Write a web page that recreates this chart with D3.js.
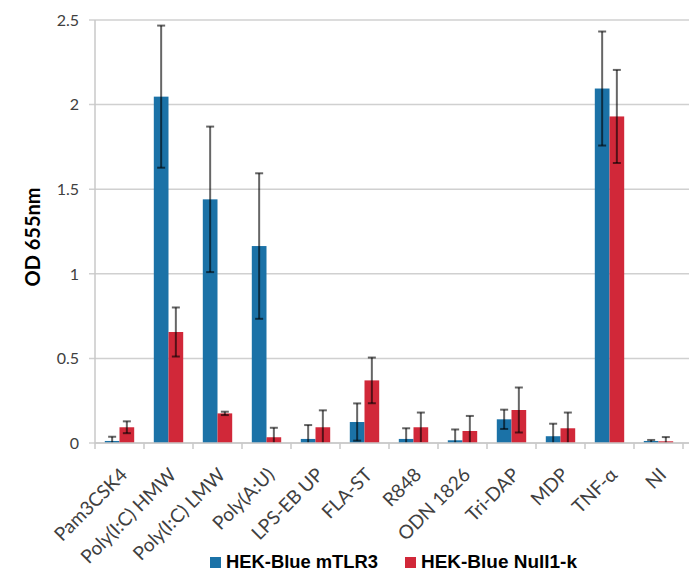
<!DOCTYPE html>
<html>
<head>
<meta charset="utf-8">
<script src="https://cdn.jsdelivr.net/npm/d3@7"></script>
<style>
  body { margin: 0; background: #fff; }
  .axis_text { font-family: Lato, sans-serif; fill: #404040; }
</style>
</head>
<body>
<figure id="chart" style="margin:0"></figure>
<script>
// data
var categories = ["Pam3CSK4", "Poly(I:C) HMW", "Poly(I:C) LMW", "Poly(A:U)", "LPS-EB UP", "FLA-ST",
    "R848", "ODN 1826", "Tri-DAP", "MDP", "TNF-α", "NI"];
var series = ["HEK-Blue mTLR3", "HEK-Blue Null1-k"];
var tlr3 = [0.012, 2.047, 1.44, 1.164, 0.024, 0.124, 0.024, 0.016, 0.14, 0.04, 2.095, 0.012];
var tlr3Err = [0.025, 0.42, 0.43, 0.43, 0.082, 0.11, 0.063, 0.064, 0.057, 0.074, 0.337, 0.006];
var null1 = [0.093, 0.656, 0.175, 0.034, 0.093, 0.37, 0.093, 0.071, 0.195, 0.087, 1.93, 0.01];
var null1Err = [0.035, 0.145, 0.01, 0.056, 0.10, 0.135, 0.087, 0.089, 0.133, 0.093, 0.275, 0.025];
var yTicks = [0, 0.5, 1, 1.5, 2, 2.5];
var colors = ["#1b72a7", "#d12839"];

let dimensions = {
    width: 695,
    height: 585,
    margin: { top: 20, right: 7, bottom: 142, left: 95 },
};
dimensions.boundedWidth = dimensions.width - dimensions.margin.left - dimensions.margin.right;
dimensions.boundedHeight = dimensions.height - dimensions.margin.top - dimensions.margin.bottom;

var root = d3.select("figure#chart")
    .append("svg")
    .attr("width", dimensions.width)
    .attr("height", dimensions.height);

var svg = root.append("g")
    .attr("transform", `translate(${dimensions.margin.left}, ${dimensions.margin.top})`);

var plotWidth = 588;

var xScale = d3.scaleBand()
    .domain(categories)
    .range([0, plotWidth])
    .paddingInner(0)
    .paddingOuter(0);

var inner = d3.scaleBand()
    .domain(series)
    .range([xScale.bandwidth() * 0.2, xScale.bandwidth() * 0.8]);

var yScale = d3.scaleLinear()
    .domain([0, 2.5])
    .range([dimensions.boundedHeight, 0]);

// gridlines
svg.append("g")
    .selectAll("line")
    .data(yTicks)
    .enter()
    .append("line")
    .attr("x1", -6)
    .attr("x2", plotWidth + 6)
    .attr("y1", d => yScale(d))
    .attr("y2", d => yScale(d))
    .attr("stroke", "#d0d0d0")
    .attr("stroke-width", 1.5);

// y axis line
svg.append("line")
    .attr("x1", 0).attr("x2", 0)
    .attr("y1", 0).attr("y2", dimensions.boundedHeight)
    .attr("stroke", "#c8c8c8")
    .attr("stroke-width", 1.5);

var rows = categories.map((c, i) => ({
    cat: c,
    vals: [
        { s: series[0], v: tlr3[i], e: tlr3Err[i] },
        { s: series[1], v: null1[i], e: null1Err[i] }
    ]
}));

var groups = svg.selectAll("g.grp")
    .data(rows)
    .enter()
    .append("g")
    .attr("class", "grp")
    .attr("transform", d => `translate(${xScale(d.cat)}, 0)`);

groups.selectAll("rect")
    .data(d => d.vals)
    .enter()
    .append("rect")
    .attr("x", d => inner(d.s))
    .attr("width", inner.bandwidth())
    .attr("y", d => yScale(d.v))
    .attr("height", d => yScale(0) - yScale(d.v))
    .attr("fill", (d, i) => colors[i]);

// x axis
var xAxis = svg.append("g")
    .attr("transform", `translate(0, ${dimensions.boundedHeight})`);
xAxis.append("line")
    .attr("x1", 0).attr("x2", plotWidth + 6)
    .attr("stroke", "#c8c8c8")
    .attr("stroke-width", 1.5);
xAxis.selectAll("line.tick")
    .data(d3.range(categories.length + 1))
    .enter()
    .append("line")
    .attr("class", "tick")
    .attr("x1", d => d * xScale.step())
    .attr("x2", d => d * xScale.step())
    .attr("y1", 0)
    .attr("y2", 6)
    .attr("stroke", "#c8c8c8")
    .attr("stroke-width", 1.5);

// error bars
var errs = groups.selectAll("g.err")
    .data(d => d.vals)
    .enter()
    .append("g")
    .attr("class", "err")
    .attr("stroke", "rgba(0,0,0,0.6)")
    .attr("stroke-width", 2);
errs.append("line")
    .attr("x1", d => inner(d.s) + inner.bandwidth() / 2)
    .attr("x2", d => inner(d.s) + inner.bandwidth() / 2)
    .attr("y1", d => yScale(Math.max(0, d.v - d.e)))
    .attr("y2", d => yScale(d.v + d.e));
errs.append("line")
    .attr("x1", d => inner(d.s) + inner.bandwidth() / 2 - 4)
    .attr("x2", d => inner(d.s) + inner.bandwidth() / 2 + 4)
    .attr("y1", d => yScale(d.v + d.e))
    .attr("y2", d => yScale(d.v + d.e));
errs.filter(d => d.v - d.e > 0.01)
    .append("line")
    .attr("x1", d => inner(d.s) + inner.bandwidth() / 2 - 4)
    .attr("x2", d => inner(d.s) + inner.bandwidth() / 2 + 4)
    .attr("y1", d => yScale(d.v - d.e))
    .attr("y2", d => yScale(d.v - d.e));

// y tick labels
svg.append("g")
    .selectAll("text")
    .data(yTicks)
    .enter()
    .append("text")
    .attr("class", "axis_text")
    .style("font-size", "16px")
    .attr("x", -16)
    .attr("y", d => yScale(d))
    .attr("dy", "0.36em")
    .attr("text-anchor", "end")
    .text(d => d);

// x labels
svg.append("g")
    .selectAll("text")
    .data(categories)
    .enter()
    .append("text")
    .attr("class", "axis_text")
    .style("font-size", "19px")
    .attr("text-anchor", "end")
    .attr("transform", d => `translate(${xScale(d) + xScale.bandwidth() / 2 + 9}, ${dimensions.boundedHeight + 33}) rotate(-45)`)
    .text(d => d);

// y title
root.append("text")
    .attr("transform", `translate(40, 237) rotate(-90)`)
    .attr("text-anchor", "middle")
    .style("font-family", "Lato, sans-serif")
    .style("font-size", "20px")
    .style("font-weight", "bold")
    .attr("fill", "#000")
    .text("OD 655nm");

// legend
var legend = root.append("g")
    .attr("transform", "translate(210, 562)");
var legX = [0, 195];
var legW = [152, 156];
series.forEach((s, i) => {
    legend.append("rect")
        .attr("x", legX[i])
        .attr("y", -5)
        .attr("width", 11)
        .attr("height", 11)
        .attr("fill", colors[i]);
    legend.append("text")
        .attr("x", legX[i] + 16)
        .attr("y", 0)
        .attr("dy", "0.36em")
        .attr("textLength", legW[i])
        .attr("lengthAdjust", "spacingAndGlyphs")
        .style("font-family", "'Liberation Sans', Arial, sans-serif")
        .style("font-size", "18px")
        .style("font-weight", "bold")
        .attr("fill", "#000")
        .text(s);
});
</script>
</body>
</html>
